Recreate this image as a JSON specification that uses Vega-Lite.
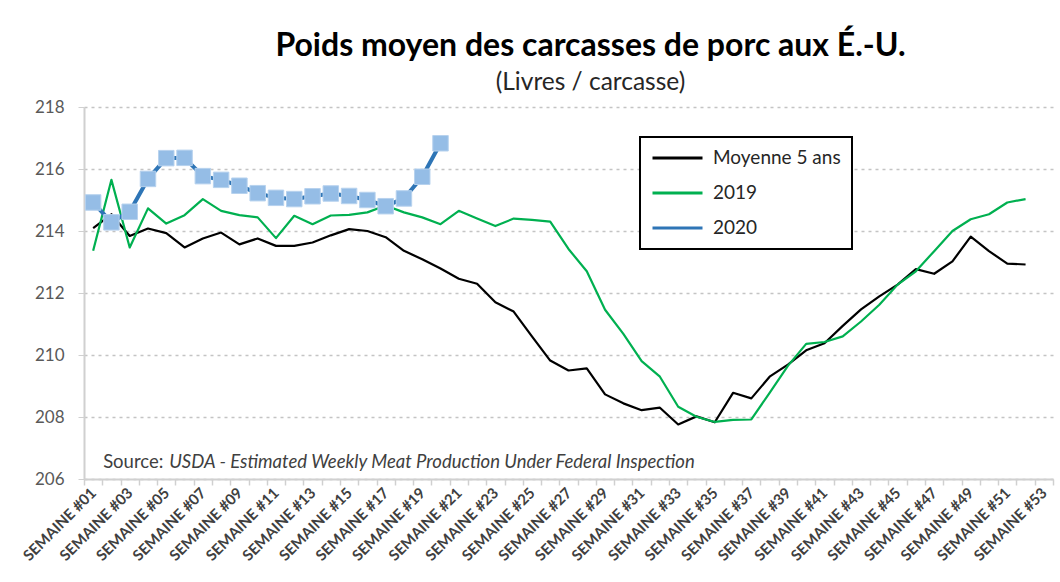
{
  "$schema": "https://vega.github.io/schema/vega-lite/v6.json",
  "autosize": "none",
  "width": 969,
  "height": 372,
  "padding": {"left": 84, "top": 107, "right": 7, "bottom": 103},
  "background": "white",
  "title": {
    "text": "Poids moyen des carcasses de porc aux É.-U.",
    "subtitle": "(Livres / carcasse)",
    "anchor": "middle",
    "dx": 22,
    "offset": 3,
    "font": "Lato",
    "fontSize": 32,
    "fontWeight": "bold",
    "color": "#000000",
    "subtitleFont": "Lato",
    "subtitleFontSize": 24.5,
    "subtitleColor": "#262626",
    "subtitlePadding": 8
  },
  "config": {
    "view": {"stroke": null},
    "font": "Lato",
    "legend": {"strokeWidth": 2}
  },
  "data": {
    "values": [
      {"week": "SEMAINE #01", "series": "Moyenne 5 ans", "value": 214.09},
      {"week": "SEMAINE #02", "series": "Moyenne 5 ans", "value": 214.54},
      {"week": "SEMAINE #03", "series": "Moyenne 5 ans", "value": 213.84},
      {"week": "SEMAINE #04", "series": "Moyenne 5 ans", "value": 214.08},
      {"week": "SEMAINE #05", "series": "Moyenne 5 ans", "value": 213.93},
      {"week": "SEMAINE #06", "series": "Moyenne 5 ans", "value": 213.47},
      {"week": "SEMAINE #07", "series": "Moyenne 5 ans", "value": 213.76},
      {"week": "SEMAINE #08", "series": "Moyenne 5 ans", "value": 213.95},
      {"week": "SEMAINE #09", "series": "Moyenne 5 ans", "value": 213.57},
      {"week": "SEMAINE #10", "series": "Moyenne 5 ans", "value": 213.76},
      {"week": "SEMAINE #11", "series": "Moyenne 5 ans", "value": 213.52},
      {"week": "SEMAINE #12", "series": "Moyenne 5 ans", "value": 213.52},
      {"week": "SEMAINE #13", "series": "Moyenne 5 ans", "value": 213.63},
      {"week": "SEMAINE #14", "series": "Moyenne 5 ans", "value": 213.86},
      {"week": "SEMAINE #15", "series": "Moyenne 5 ans", "value": 214.06},
      {"week": "SEMAINE #16", "series": "Moyenne 5 ans", "value": 214.0},
      {"week": "SEMAINE #17", "series": "Moyenne 5 ans", "value": 213.8},
      {"week": "SEMAINE #18", "series": "Moyenne 5 ans", "value": 213.36},
      {"week": "SEMAINE #19", "series": "Moyenne 5 ans", "value": 213.09},
      {"week": "SEMAINE #20", "series": "Moyenne 5 ans", "value": 212.79},
      {"week": "SEMAINE #21", "series": "Moyenne 5 ans", "value": 212.46},
      {"week": "SEMAINE #22", "series": "Moyenne 5 ans", "value": 212.3},
      {"week": "SEMAINE #23", "series": "Moyenne 5 ans", "value": 211.7},
      {"week": "SEMAINE #24", "series": "Moyenne 5 ans", "value": 211.4},
      {"week": "SEMAINE #25", "series": "Moyenne 5 ans", "value": 210.6},
      {"week": "SEMAINE #26", "series": "Moyenne 5 ans", "value": 209.82},
      {"week": "SEMAINE #27", "series": "Moyenne 5 ans", "value": 209.5},
      {"week": "SEMAINE #28", "series": "Moyenne 5 ans", "value": 209.57},
      {"week": "SEMAINE #29", "series": "Moyenne 5 ans", "value": 208.73},
      {"week": "SEMAINE #30", "series": "Moyenne 5 ans", "value": 208.44},
      {"week": "SEMAINE #31", "series": "Moyenne 5 ans", "value": 208.22},
      {"week": "SEMAINE #32", "series": "Moyenne 5 ans", "value": 208.3},
      {"week": "SEMAINE #33", "series": "Moyenne 5 ans", "value": 207.76},
      {"week": "SEMAINE #34", "series": "Moyenne 5 ans", "value": 208.02},
      {"week": "SEMAINE #35", "series": "Moyenne 5 ans", "value": 207.83},
      {"week": "SEMAINE #36", "series": "Moyenne 5 ans", "value": 208.78},
      {"week": "SEMAINE #37", "series": "Moyenne 5 ans", "value": 208.6},
      {"week": "SEMAINE #38", "series": "Moyenne 5 ans", "value": 209.3},
      {"week": "SEMAINE #39", "series": "Moyenne 5 ans", "value": 209.69},
      {"week": "SEMAINE #40", "series": "Moyenne 5 ans", "value": 210.15},
      {"week": "SEMAINE #41", "series": "Moyenne 5 ans", "value": 210.38},
      {"week": "SEMAINE #42", "series": "Moyenne 5 ans", "value": 210.94},
      {"week": "SEMAINE #43", "series": "Moyenne 5 ans", "value": 211.47},
      {"week": "SEMAINE #44", "series": "Moyenne 5 ans", "value": 211.89},
      {"week": "SEMAINE #45", "series": "Moyenne 5 ans", "value": 212.27},
      {"week": "SEMAINE #46", "series": "Moyenne 5 ans", "value": 212.77},
      {"week": "SEMAINE #47", "series": "Moyenne 5 ans", "value": 212.62},
      {"week": "SEMAINE #48", "series": "Moyenne 5 ans", "value": 213.02},
      {"week": "SEMAINE #49", "series": "Moyenne 5 ans", "value": 213.82},
      {"week": "SEMAINE #50", "series": "Moyenne 5 ans", "value": 213.35},
      {"week": "SEMAINE #51", "series": "Moyenne 5 ans", "value": 212.95},
      {"week": "SEMAINE #52", "series": "Moyenne 5 ans", "value": 212.92},
      {"week": "SEMAINE #01", "series": "2019", "value": 213.36},
      {"week": "SEMAINE #02", "series": "2019", "value": 215.65},
      {"week": "SEMAINE #03", "series": "2019", "value": 213.47},
      {"week": "SEMAINE #04", "series": "2019", "value": 214.73},
      {"week": "SEMAINE #05", "series": "2019", "value": 214.24},
      {"week": "SEMAINE #06", "series": "2019", "value": 214.51},
      {"week": "SEMAINE #07", "series": "2019", "value": 215.03},
      {"week": "SEMAINE #08", "series": "2019", "value": 214.65},
      {"week": "SEMAINE #09", "series": "2019", "value": 214.51},
      {"week": "SEMAINE #10", "series": "2019", "value": 214.44},
      {"week": "SEMAINE #11", "series": "2019", "value": 213.77},
      {"week": "SEMAINE #12", "series": "2019", "value": 214.49},
      {"week": "SEMAINE #13", "series": "2019", "value": 214.22},
      {"week": "SEMAINE #14", "series": "2019", "value": 214.5},
      {"week": "SEMAINE #15", "series": "2019", "value": 214.52},
      {"week": "SEMAINE #16", "series": "2019", "value": 214.6},
      {"week": "SEMAINE #17", "series": "2019", "value": 214.82},
      {"week": "SEMAINE #18", "series": "2019", "value": 214.6},
      {"week": "SEMAINE #19", "series": "2019", "value": 214.44},
      {"week": "SEMAINE #20", "series": "2019", "value": 214.22},
      {"week": "SEMAINE #21", "series": "2019", "value": 214.65},
      {"week": "SEMAINE #22", "series": "2019", "value": 214.4},
      {"week": "SEMAINE #23", "series": "2019", "value": 214.16},
      {"week": "SEMAINE #24", "series": "2019", "value": 214.4},
      {"week": "SEMAINE #25", "series": "2019", "value": 214.36},
      {"week": "SEMAINE #26", "series": "2019", "value": 214.3},
      {"week": "SEMAINE #27", "series": "2019", "value": 213.42},
      {"week": "SEMAINE #28", "series": "2019", "value": 212.7},
      {"week": "SEMAINE #29", "series": "2019", "value": 211.46},
      {"week": "SEMAINE #30", "series": "2019", "value": 210.68},
      {"week": "SEMAINE #31", "series": "2019", "value": 209.8},
      {"week": "SEMAINE #32", "series": "2019", "value": 209.3},
      {"week": "SEMAINE #33", "series": "2019", "value": 208.33},
      {"week": "SEMAINE #34", "series": "2019", "value": 208.01},
      {"week": "SEMAINE #35", "series": "2019", "value": 207.84},
      {"week": "SEMAINE #36", "series": "2019", "value": 207.91},
      {"week": "SEMAINE #37", "series": "2019", "value": 207.92},
      {"week": "SEMAINE #38", "series": "2019", "value": 208.78},
      {"week": "SEMAINE #39", "series": "2019", "value": 209.65},
      {"week": "SEMAINE #40", "series": "2019", "value": 210.36},
      {"week": "SEMAINE #41", "series": "2019", "value": 210.42},
      {"week": "SEMAINE #42", "series": "2019", "value": 210.6},
      {"week": "SEMAINE #43", "series": "2019", "value": 211.08},
      {"week": "SEMAINE #44", "series": "2019", "value": 211.62},
      {"week": "SEMAINE #45", "series": "2019", "value": 212.27},
      {"week": "SEMAINE #46", "series": "2019", "value": 212.7},
      {"week": "SEMAINE #47", "series": "2019", "value": 213.35},
      {"week": "SEMAINE #48", "series": "2019", "value": 214.0},
      {"week": "SEMAINE #49", "series": "2019", "value": 214.38},
      {"week": "SEMAINE #50", "series": "2019", "value": 214.54},
      {"week": "SEMAINE #51", "series": "2019", "value": 214.92},
      {"week": "SEMAINE #52", "series": "2019", "value": 215.03},
      {"week": "SEMAINE #01", "series": "2020", "value": 214.92},
      {"week": "SEMAINE #02", "series": "2020", "value": 214.28},
      {"week": "SEMAINE #03", "series": "2020", "value": 214.62},
      {"week": "SEMAINE #04", "series": "2020", "value": 215.68},
      {"week": "SEMAINE #05", "series": "2020", "value": 216.35},
      {"week": "SEMAINE #06", "series": "2020", "value": 216.36},
      {"week": "SEMAINE #07", "series": "2020", "value": 215.77},
      {"week": "SEMAINE #08", "series": "2020", "value": 215.65},
      {"week": "SEMAINE #09", "series": "2020", "value": 215.46},
      {"week": "SEMAINE #10", "series": "2020", "value": 215.22},
      {"week": "SEMAINE #11", "series": "2020", "value": 215.07},
      {"week": "SEMAINE #12", "series": "2020", "value": 215.03},
      {"week": "SEMAINE #13", "series": "2020", "value": 215.12},
      {"week": "SEMAINE #14", "series": "2020", "value": 215.21},
      {"week": "SEMAINE #15", "series": "2020", "value": 215.13},
      {"week": "SEMAINE #16", "series": "2020", "value": 215.0},
      {"week": "SEMAINE #17", "series": "2020", "value": 214.8},
      {"week": "SEMAINE #18", "series": "2020", "value": 215.05},
      {"week": "SEMAINE #19", "series": "2020", "value": 215.75},
      {"week": "SEMAINE #20", "series": "2020", "value": 216.83}
    ]
  },
  "encoding": {
    "x": {
      "field": "week",
      "type": "ordinal",
      "scale": {
        "domain": ["SEMAINE #01","SEMAINE #02","SEMAINE #03","SEMAINE #04","SEMAINE #05","SEMAINE #06","SEMAINE #07","SEMAINE #08","SEMAINE #09","SEMAINE #10","SEMAINE #11","SEMAINE #12","SEMAINE #13","SEMAINE #14","SEMAINE #15","SEMAINE #16","SEMAINE #17","SEMAINE #18","SEMAINE #19","SEMAINE #20","SEMAINE #21","SEMAINE #22","SEMAINE #23","SEMAINE #24","SEMAINE #25","SEMAINE #26","SEMAINE #27","SEMAINE #28","SEMAINE #29","SEMAINE #30","SEMAINE #31","SEMAINE #32","SEMAINE #33","SEMAINE #34","SEMAINE #35","SEMAINE #36","SEMAINE #37","SEMAINE #38","SEMAINE #39","SEMAINE #40","SEMAINE #41","SEMAINE #42","SEMAINE #43","SEMAINE #44","SEMAINE #45","SEMAINE #46","SEMAINE #47","SEMAINE #48","SEMAINE #49","SEMAINE #50","SEMAINE #51","SEMAINE #52","SEMAINE #53"],
        "type": "band",
        "paddingInner": 0,
        "paddingOuter": 0
      },
      "axis": {
        "title": null,
        "labelAngle": -45,
        "labelAlign": "right",
        "labelBaseline": "middle",
        "labelFont": "Lato",
        "labelFontSize": 15,
        "labelFontWeight": "bold",
        "labelColor": "#404040",
        "labelPadding": 5,
        "labelOverlap": false,
        "labelExpr": "parseInt(substring(datum.label, 9)) % 2 == 1 ? datum.label : ''",
        "tickBand": "extent",
        "tickSize": 6,
        "tickColor": "#d0d0d0",
        "tickWidth": 1.5,
        "domainColor": "#d0d0d0",
        "domainWidth": 2,
        "grid": false
      }
    },
    "y": {
      "field": "value",
      "type": "quantitative",
      "scale": {"domain": [206, 218], "nice": false, "zero": false},
      "axis": {
        "title": null,
        "values": [206, 208, 210, 212, 214, 216, 218],
        "labelFont": "Lato",
        "labelFontSize": 17,
        "labelColor": "#595959",
        "labelPadding": 14,
        "tickSize": 6,
        "tickColor": "#d0d0d0",
        "domainColor": "#d0d0d0",
        "domainWidth": 2,
        "grid": true,
        "gridColor": "#c4c4c4",
        "gridDash": [3, 4],
        "gridWidth": 1.5
      }
    }
  },
  "layer": [
    {
      "mark": {"type": "line", "strokeJoin": "round"},
      "encoding": {
        "color": {
          "field": "series",
          "type": "nominal",
          "scale": {"domain": ["Moyenne 5 ans", "2019", "2020"], "range": ["#000000", "#00b050", "#2e75b6"]},
          "legend": {
            "title": null,
            "orient": "none",
            "legendX": 556,
            "legendY": 30,
            "direction": "vertical",
            "symbolType": "stroke",
            "symbolSize": 2500,
            "symbolStrokeWidth": 3,
            "clipHeight": 20,
            "labelFont": "Lato",
            "labelFontSize": 19,
            "labelColor": "#262626",
            "labelOffset": 9,
            "rowPadding": 15,
            "padding": 11,
            "strokeColor": "#000000",
            "fillColor": "#ffffff"
          }
        },
        "strokeWidth": {
          "condition": {"test": "datum.series === '2020'", "value": 4},
          "value": 2.2
        },
        "order": {"field": "series", "sort": "descending"}
      }
    },
    {
      "transform": [{"filter": "datum.series === '2020'"}],
      "mark": {"type": "square", "size": 240, "filled": true, "fill": "#95bde6", "stroke": "#b7d2ee", "strokeWidth": 1, "opacity": 1}
    },
    {
      "data": {"values": [{"week": "SEMAINE #01", "value": 206.55, "txt": "Source:"}]},
      "mark": {"type": "text", "align": "left", "baseline": "middle", "dx": 10, "font": "Lato", "fontSize": 18.5, "color": "#404040"},
      "encoding": {"text": {"field": "txt"}}
    },
    {
      "data": {"values": [{"week": "SEMAINE #01", "value": 206.55, "txt": "USDA - Estimated Weekly Meat Production Under Federal Inspection"}]},
      "mark": {"type": "text", "align": "left", "baseline": "middle", "dx": 76, "font": "Lato", "fontSize": 18.5, "fontStyle": "italic", "color": "#404040"},
      "encoding": {"text": {"field": "txt"}}
    }
  ]
}
